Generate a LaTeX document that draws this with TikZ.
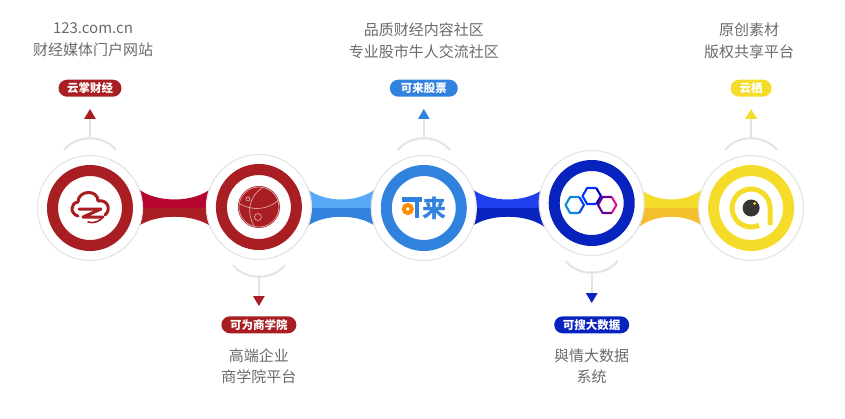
\documentclass[tikz,border=0pt]{standalone}
\usepackage{fontspec}
\setmainfont{Noto Sans CJK SC}
\usetikzlibrary{positioning, arrows.meta, calc, backgrounds}

\definecolor{yzred}{HTML}{A81E22}
\definecolor{yzcrimson}{HTML}{B5052E}
\definecolor{klblue}{HTML}{3182DE}
\definecolor{kllight}{HTML}{57A9F8}
\definecolor{ksblue}{HTML}{0822BE}
\definecolor{kslight}{HTML}{2040EE}
\definecolor{yqyellow}{HTML}{F5DC2B}
\definecolor{yqamber}{HTML}{F5BE2D}
\definecolor{labelgray}{HTML}{6A6A6A}
\definecolor{stemgray}{HTML}{E3E3E3}

% band between two discs, light half over dark half
\newcommand{\linkband}[4]{
  \coordinate (l) at (#1.east |- yzcj);
  \coordinate (r) at (#2.west |- yzcj);
  \fill[#3] ([shift={(-6,0)}]l) -- ([shift={(-6,-20)}]l)
    .. controls ([shift={(12,-4.7)}]l) and ([shift={(-12,-4.7)}]r) .. ([shift={(6,-20)}]r)
    -- ([shift={(6,0)}]r) -- cycle;
  \fill[#4] ([shift={(-6,0)}]l) -- ([shift={(-6,19)}]l)
    .. controls ([shift={(12,5.3)}]l) and ([shift={(-12,5.3)}]r) .. ([shift={(6,19)}]r)
    -- ([shift={(6,0)}]r) -- cycle;
}
\newcommand{\hexcell}[4]{
  \draw[#3, line width=2.1pt, line join=round] (#1,#2) +(60:9.2) -- +(120:9.2) -- +(180:9.2) -- +(240:9.2) -- +(300:9.2);
  \draw[#4, line width=2.1pt, line join=round] (#1,#2) +(300:9.2) -- +(0:9.2) -- +(60:9.2);
}

\begin{document}
\begin{tikzpicture}[
    x=1pt, y=-1pt,
    node distance=58pt and 60pt,
    disc/.style={circle, draw=black!10, line width=1.2pt, fill=white, minimum size=105pt, inner sep=0pt},
    ring/.style={circle, draw=#1, line width=11pt, minimum size=75pt, inner sep=0pt, outer sep=0pt},
    pill/.style={fill=#1, rounded corners=8.5pt, text=white, minimum height=17pt, inner sep=0pt, font=\bfseries\fontsize{11.5}{12}\selectfont},
    desc/.style={align=center, text=labelgray, inner sep=0pt, font=\fontsize{15}{21.5}\selectfont},
    bow/.style={draw=stemgray, line width=2pt, bend left=50},
    bowlow/.style={draw=stemgray, line width=2pt, bend right=50},
    stem/.style={draw=stemgray, line width=2.4pt, -{Triangle[length=10pt, width=11pt, color=#1, fill=#1]}},
]
\useasboundingbox (0,0) rectangle (845,418);

% Discs
\node[disc] (yzcj) at (90,208) {};
\node[disc, right=62.7pt of yzcj, yshift=1pt] (kwsxy) {};
\node[disc, right=58.7pt of kwsxy, yshift=-1pt] (klgp) {};
\node[disc, right=61.7pt of klgp, yshift=5pt] (ksdsj) {};
\node[disc, right=53.2pt of ksdsj, yshift=-5pt] (yq) {};

\node[ring=yzred] (yzcj-ring) at (yzcj) {};
\node[ring=yzred] (kwsxy-ring) at (kwsxy) {};
\node[ring=klblue] (klgp-ring) at (klgp) {};
\node[ring=ksblue] (ksdsj-ring) at (ksdsj) {};
\node[ring=yqyellow] (yq-ring) at (yq) {};

% Bands
\begin{scope}[on background layer]
  \linkband{yzcj}{kwsxy}{yzcrimson}{yzred}
  \linkband{kwsxy}{klgp}{kllight}{klblue}
  \linkband{klgp}{ksdsj}{kslight}{ksblue}
  \linkband{ksdsj}{yq}{yqyellow}{yqamber}
\end{scope}

% Pills
\node[pill=yzred, minimum width=63pt, above=of yzcj] (yzcj-pill) {云掌财经};
\node[pill=yzred, minimum width=75pt, below=56pt of kwsxy] (kwsxy-pill) {可为商学院};
\node[pill=klblue, minimum width=68pt, above=of klgp] (klgp-pill) {可来股票};
\node[pill=ksblue, minimum width=75pt, below=60pt of ksdsj] (ksdsj-pill) {可搜大数据};
\node[pill=yqyellow, minimum width=41pt, above=of yq] (yq-pill) {云栖};

% Labels
\node[desc, above=23pt of yzcj-pill, xshift=3pt] (yzcj-desc) {123.com.cn\\财经媒体门户网站};
\node[desc, below=15pt of kwsxy-pill] (kwsxy-desc) {高端企业\\商学院平台};
\node[desc, above=21pt of klgp-pill] (klgp-desc) {品质财经内容社区\\专业股市牛人交流社区};
\node[desc, below=15pt of ksdsj-pill] (ksdsj-desc) {與情大数据\\系统};
\node[desc, above=21pt of yq-pill, xshift=-2pt] (yq-desc) {原创素材\\版权共享平台};

% Arrows
\draw[bow] ([shift={(-26,-5)}]yzcj.north) to ([shift={(26,-5)}]yzcj.north);
\draw[stem=yzred] ([shift={(0,-16)}]yzcj.north) -- ([shift={(0,12)}]yzcj-pill.south);
\draw[bowlow] ([shift={(-26,5)}]kwsxy.south) to ([shift={(26,5)}]kwsxy.south);
\draw[stem=yzred] ([shift={(0,15)}]kwsxy.south) -- ([shift={(0,-10)}]kwsxy-pill.north);
\draw[bow] ([shift={(-26,-5)}]klgp.north) to ([shift={(26,-5)}]klgp.north);
\draw[stem=klblue] ([shift={(0,-16)}]klgp.north) -- ([shift={(0,12)}]klgp-pill.south);
\draw[bowlow] ([shift={(-26,5)}]ksdsj.south) to ([shift={(26,5)}]ksdsj.south);
\draw[stem=ksblue] ([shift={(0,15)}]ksdsj.south) -- ([shift={(0,-13)}]ksdsj-pill.north);
\draw[bow] ([shift={(-26,-5)}]yq.north) to ([shift={(26,-5)}]yq.north);
\draw[stem=yqyellow] ([shift={(0,-16)}]yq.north) -- ([shift={(0,12)}]yq-pill.south);

% Cloud mark
\begin{scope}[shift={(yzcj)}, yzred, line width=3pt, line join=round, line cap=round]
  \draw (-12,8) .. controls (-20,6) and (-20,-5) .. (-12,-6)
    .. controls (-12,-18) and (8,-19) .. (8,-7)
    .. controls (17,-9) and (22,1) .. (15,7);
  \draw (-11,1) -- (11,1) -- (-7,9) -- (13,9);
  \draw[line width=1.6pt] (-2,14) .. controls (4,16) and (10,13) .. (13,9);
\end{scope}

% Globe mark
\begin{scope}[shift={(kwsxy)}]
  \fill[yzred] (0,0) circle (21);
  \draw[white!60!yzred, line width=0.7pt] (0,0) circle (20)
    (3,-19) .. controls (-11,-9) and (-12,6) .. (-5,19)
    (-19,-3) .. controls (-6,4) and (8,3) .. (20,-7)
    (-11,-8) circle (2) (-1,10) circle (3.5);
\end{scope}

% Kelai mark
\begin{scope}[shift={(klgp)}]
  \fill[klblue] (-22,-11) rectangle (-2,-6.5);
  \fill[klblue] (-9,-9) rectangle (-5,10);
  \draw[orange!90!yellow, line width=4pt] (-16,1) circle (4);
  \node[text=klblue, inner sep=0pt, font=\bfseries\fontsize{24}{24}\selectfont] (klgp-mark) at (11,0) {来};
\end{scope}

% Hexagon mark
\begin{scope}[shift={(ksdsj)}]
  \hexcell{-17}{2}{cyan!70!blue}{blue!75!cyan}
  \hexcell{0}{-7}{blue!80!cyan}{blue!75!black}
  \hexcell{15.5}{2}{violet!85!blue}{magenta!80!violet}
\end{scope}

% Eye mark
\begin{scope}[shift={(yq)}]
  \draw[yqyellow, line width=5pt] (65:19) arc (65:360:19) -- ++(0,17);
  \fill[black!90!yellow] (0,0) circle (8.5);
  \fill[yqyellow] (3.5,-4.5) circle (1.4);
\end{scope}

\end{tikzpicture}
\end{document}
